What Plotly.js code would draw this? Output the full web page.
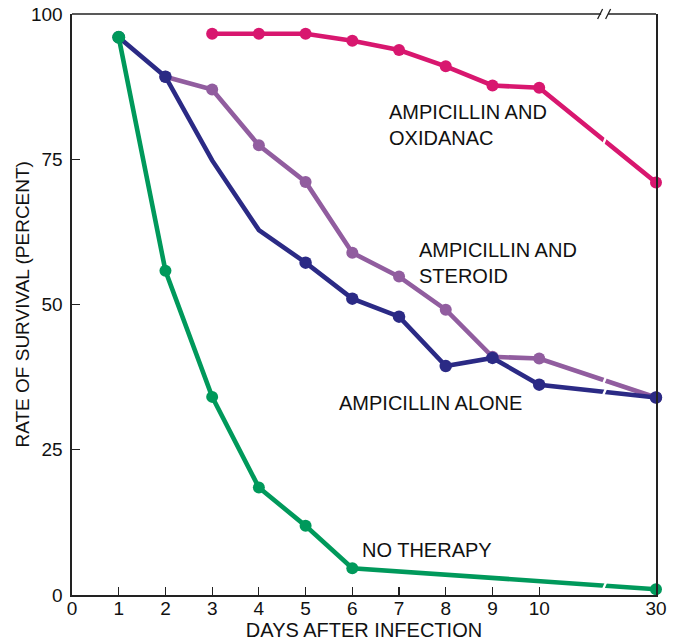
<!DOCTYPE html>
<html>
<head>
<meta charset="utf-8">
<script src="https://cdn.plot.ly/plotly-3.0.1.min.js"></script>
<style>html,body{margin:0;padding:0;background:#fff;}</style>
</head>
<body>
<div id="chart" style="width:675px;height:643px;"></div>
<script>
// ---- data ----
const tickDays = [0, 1, 2, 3, 4, 5, 6, 7, 8, 9, 10, 30];

const noTherapyDays = [1, 2, 3, 4, 5, 6, 30];
const noTherapyVals = [96, 55.8, 34.1, 18.5, 11.9, 4.6, 1.0];

const aloneDays = [1, 2, 3, 4, 5, 6, 7, 8, 9, 10, 30];
const aloneVals = [96, 89.2, 74.8, 62.8, 57.2, 51.0, 47.9, 39.4, 40.8, 36.2, 34.0];
const aloneMeasured = [true, true, false, false, true, true, true, true, true, true, true];

const steroidDays = [2, 3, 4, 5, 6, 7, 8, 9, 10, 30];
const steroidVals = [89.2, 87.0, 77.4, 71.1, 58.9, 54.8, 49.1, 41.0, 40.7, 34.0];

const oxidanacDays = [3, 4, 5, 6, 7, 8, 9, 10, 30];
const oxidanacVals = [96.6, 96.6, 96.6, 95.4, 93.8, 91.0, 87.7, 87.3, 71.0];

const labels = ["NO THERAPY", "AMPICILLIN ALONE", "AMPICILLIN AND<br>STEROID", "AMPICILLIN AND<br>OXIDANAC"];

// ---- broken axis: days 0..10 linear, 30 placed after a gap ----
const GAP_POS = 12.5;       // where day 30 is drawn
const BREAK_POS = 11.4;     // where the break marks sit
function xpos(d) { return d <= 10 ? d : GAP_POS; }

const colors = {
  green: '#00995b',
  navy: '#2b2a85',
  purple: '#915d9f',
  magenta: '#d8176f'
};

function trace(days, vals, color, sizes) {
  return {
    x: days.map(xpos), y: vals, type: 'scatter', mode: 'lines+markers',
    line: {color: color, width: 4.6},
    marker: {color: color, size: sizes || 12, opacity: 1, line: {width: 0}},
    hoverinfo: 'skip', showlegend: false, cliponaxis: false
  };
}

const data = [
  trace(steroidDays, steroidVals, colors.purple),
  trace(aloneDays, aloneVals, colors.navy, aloneMeasured.map(m => m ? 12.5 : 0)),
  trace(noTherapyDays, noTherapyVals, colors.green, noTherapyDays.map((d, i) => i === 0 ? 13 : 12)),
  trace(oxidanacDays, oxidanacVals, colors.magenta)
];

// break marks on each series between day 10 and day 30
function yAtBreak(days, vals) {
  const n = days.length;
  const x0 = xpos(days[n - 2]), x1 = xpos(days[n - 1]);
  const t = (BREAK_POS - x0) / (x1 - x0);
  return vals[n - 2] + t * (vals[n - 1] - vals[n - 2]);
}
const shapes = [];
function lineBreak(yv) {
  shapes.push({type: 'path', xref: 'x', yref: 'y', xsizemode: 'pixel', ysizemode: 'pixel',
    xanchor: BREAK_POS, yanchor: yv, path: 'M-3,-7 L3,7', line: {color: '#fff', width: 2.4}});
}
[[noTherapyDays, noTherapyVals], [aloneDays, aloneVals],
 [steroidDays, steroidVals], [oxidanacDays, oxidanacVals]]
  .forEach(([d, v]) => lineBreak(yAtBreak(d, v)));

// top frame line drawn in two pieces with a break
const bp = BREAK_POS / GAP_POS;
const gapPaper = 3.5 / 584;
shapes.push({type: 'line', xref: 'paper', yref: 'paper', x0: 0, x1: bp - gapPaper, y0: 1, y1: 1,
  line: {color: '#222', width: 1.6}});
shapes.push({type: 'line', xref: 'paper', yref: 'paper', x0: bp + gapPaper, x1: 1, y0: 1, y1: 1,
  line: {color: '#222', width: 1.6}});
shapes.push({type: 'path', xref: 'paper', yref: 'paper', xsizemode: 'pixel', ysizemode: 'pixel',
  xanchor: bp, yanchor: 1, path: 'M-7,-5 L-2,5 M1,-5 L6,5', line: {color: '#222', width: 1.3}});

const font = {family: 'Liberation Sans, Arial, sans-serif', size: 19, color: '#111'};
const titleFont = {family: 'Liberation Sans, Arial, sans-serif', size: 20, color: '#111'};
const annFont = {family: 'Liberation Sans, Arial, sans-serif', size: 20, color: '#111'};

const layout = {
  width: 675, height: 643,
  margin: {l: 72, r: 19, t: 14, b: 48},
  paper_bgcolor: '#fff', plot_bgcolor: '#fff',
  font: font,
  showlegend: false,
  xaxis: {
    range: [0, GAP_POS], showgrid: false, zeroline: false,
    tickmode: 'array', tickvals: tickDays.map(xpos), ticktext: tickDays.map(String),
    ticks: 'inside', ticklen: 8, tickwidth: 1.2, tickcolor: '#222',
    showline: true, linecolor: '#222', linewidth: 1.6, mirror: false,
    tickfont: font, ticklabelstandoff: -4,
    title: {text: 'DAYS AFTER INFECTION', font: titleFont, standoff: 2}
  },
  yaxis: {
    range: [0, 100], showgrid: false, zeroline: false,
    tickvals: [0, 25, 50, 75, 100],
    ticks: 'inside', ticklen: 8, tickwidth: 1.2, tickcolor: '#222',
    showline: true, linecolor: '#222', linewidth: 1.6, mirror: true,
    tickfont: font, ticklabelstandoff: 4,
    title: {text: ''}
  },
  shapes: shapes,
  annotations: [
    {text: 'RATE OF SURVIVAL (PERCENT)', xref: 'paper', yref: 'paper', x: 0, y: 0.5, xshift: -50,
     xanchor: 'center', yanchor: 'middle', textangle: -90, showarrow: false, font: font},
    {text: labels[0], x: 6.17, y: 7.7, xref: 'x', yref: 'y', xanchor: 'left', yanchor: 'middle', showarrow: false, align: 'left', font: annFont},
    {text: labels[1], x: 5.67, y: 33.0, xref: 'x', yref: 'y', xanchor: 'left', yanchor: 'middle', showarrow: false, align: 'left', font: annFont},
    {text: labels[2], x: 7.39, y: 57.1, xref: 'x', yref: 'y', xanchor: 'left', yanchor: 'middle', showarrow: false, align: 'left', font: annFont},
    {text: labels[3], x: 6.74, y: 80.9, xref: 'x', yref: 'y', xanchor: 'left', yanchor: 'middle', showarrow: false, align: 'left', font: annFont}
  ]
};

Plotly.newPlot('chart', data, layout, {displayModeBar: false, staticPlot: true});
</script>
</body>
</html>
